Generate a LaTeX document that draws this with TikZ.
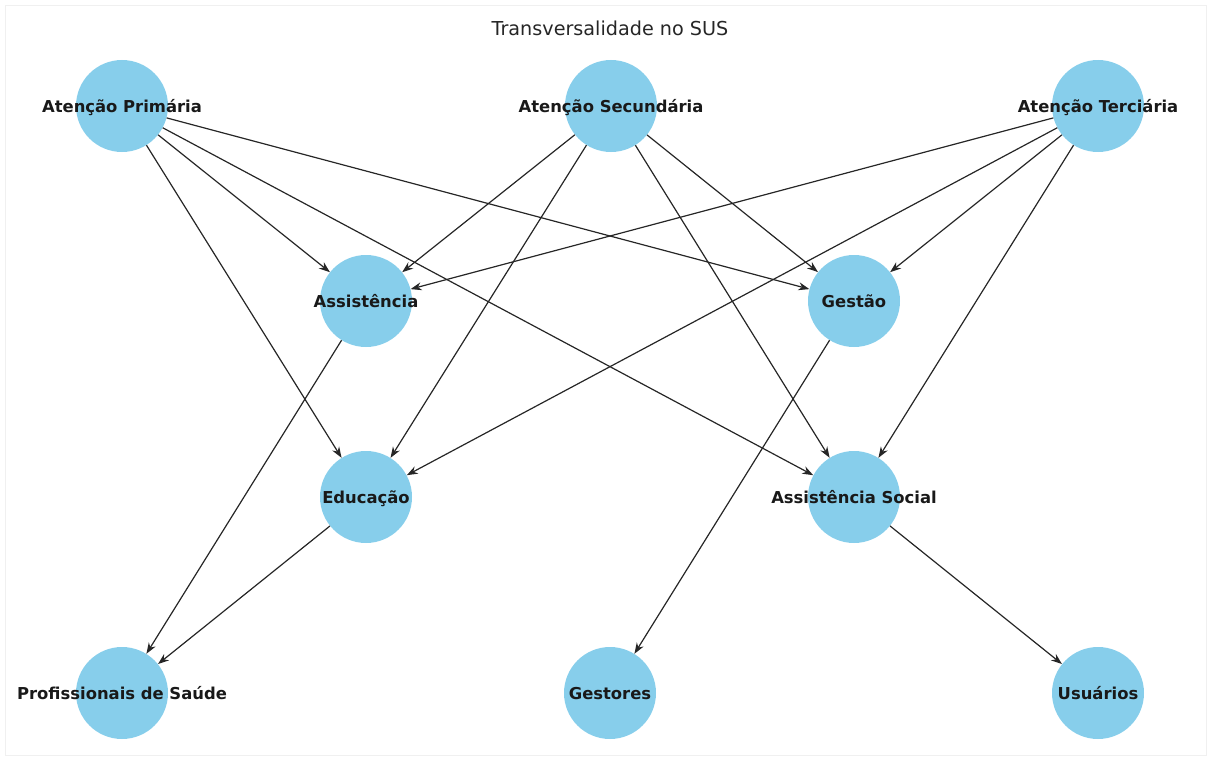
\documentclass[tikz,border=0pt]{standalone}
\usepackage{fontspec}
\setmainfont{DejaVu Sans}
\usetikzlibrary{arrows.meta}
\definecolor{sky}{RGB}{135,206,235}
\begin{document}
\begin{tikzpicture}[x=1pt,y=-1pt,
  vert/.style={circle,fill=sky,draw=none,minimum size=92pt,inner sep=0pt},
  lbl/.style={font=\bfseries\fontsize{16.4}{18}\selectfont,text=black!90,inner sep=0pt,anchor=base,yshift=-6.3pt},
  edge/.style={draw=black!85,line width=1.2pt,-{Stealth[length=11pt,width=8pt]}}]
\useasboundingbox (0,0) rectangle (1211,760);
\draw[black!6,line width=0.8pt] (5,5) rectangle (1206,755);
\node[font=\fontsize{19.2}{21}\selectfont,text=black!85] (title) at (610,28) {Transversalidade no SUS};
\node[vert] (ap) at (122,106) {};
\node[vert] (as) at (611,106) {};
\node[vert] (at) at (1098,106) {};
\node[vert] (ass) at (366,301) {};
\node[vert] (ges) at (854,301) {};
\node[vert] (edu) at (366,497) {};
\node[vert] (soc) at (854,497) {};
\node[vert] (pro) at (122,693) {};
\node[vert] (gst) at (610,693) {};
\node[vert] (usu) at (1098,693) {};
\foreach \s in {ap,as,at}{
  \foreach \t in {ass,ges,edu,soc}{
    \draw[edge] (\s) -- (\t);
  }
}
\draw[edge] (ass) -- (pro);
\draw[edge] (edu) -- (pro);
\draw[edge] (ges) -- (gst);
\draw[edge] (soc) -- (usu);
\node[lbl] at (ap) {Atenção Primária};
\node[lbl] at (as) {Atenção Secundária};
\node[lbl] at (at) {Atenção Terciária};
\node[lbl] at (ass) {Assistência};
\node[lbl] at (ges) {Gestão};
\node[lbl] at (edu) {Educação};
\node[lbl] at (soc) {Assistência Social};
\node[lbl] at (pro) {Profissionais de Saúde};
\node[lbl] at (gst) {Gestores};
\node[lbl] at (usu) {Usuários};
\end{tikzpicture}
\end{document}
